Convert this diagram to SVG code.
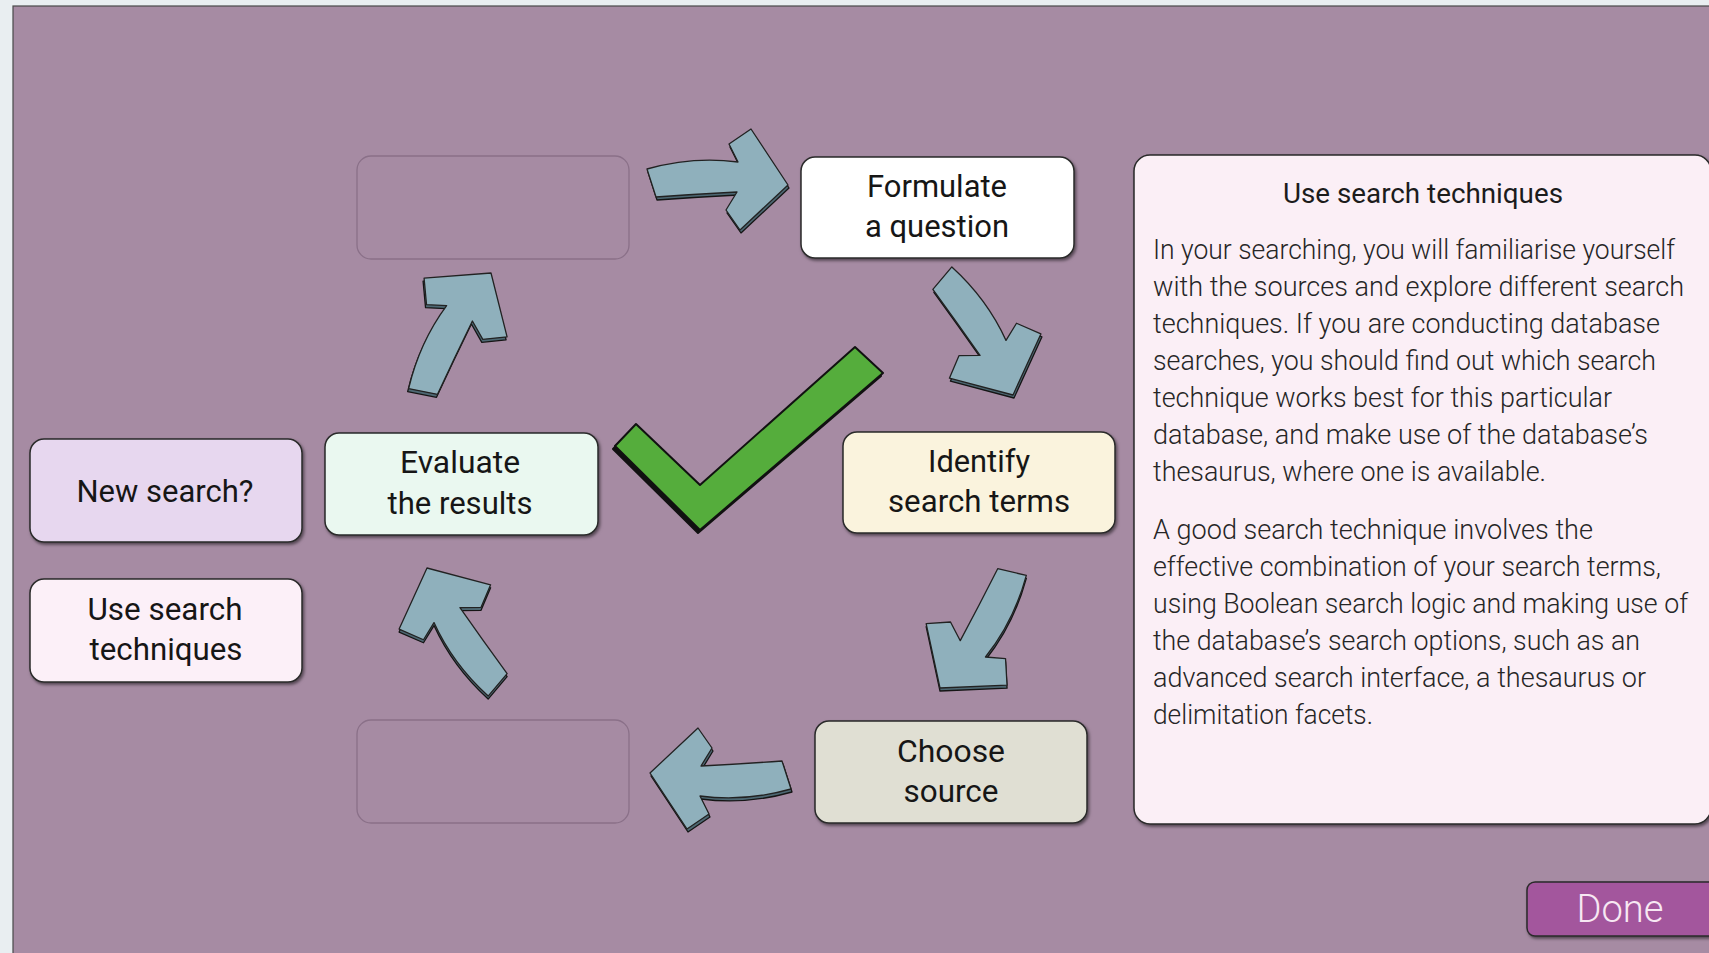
<svg xmlns="http://www.w3.org/2000/svg" xmlns:xlink="http://www.w3.org/1999/xlink" width="1709" height="953" viewBox="0 0 1709 953">
<style>
.node rect{stroke:#2a2a2a;stroke-width:1.5;filter:url(#sh)}
.lbl{font-family:Roboto,"Open Sans",sans-serif;font-size:31px;fill:#161616;text-anchor:middle}
.empty{fill:none;stroke:#8a7088;stroke-width:1.3}
.ash{fill:#4d6873;stroke:#151515;stroke-width:1.3;stroke-linejoin:round}
.afill{fill:#8fb0bc;stroke:#222;stroke-width:1.3;stroke-linejoin:round}
.body{font-family:Roboto,"Liberation Sans",sans-serif;font-weight:300;font-size:27px;fill:#262626}
</style>
<defs>
<filter id="sh" x="-10%" y="-10%" width="120%" height="130%">
<feDropShadow dx="1.5" dy="2" stdDeviation="1.5" flood-color="#000" flood-opacity="0.5"/>
</filter>
<path id="arr" d="M0,0 L-37,-56 L-59,-41 L-50,-23 Q-95,-29 -141,-16 L-132,12 Q-90,9 -51,7 L-62,25 L-48,45 Z"/>
</defs>
<rect x="0" y="0" width="1709" height="953" fill="#e9eef1"/>
<rect x="13" y="6" width="1720" height="960" fill="#a68ba3" stroke="#4a4a4a" stroke-width="1.2"/>

<g id="empty-top"><rect class="empty" x="357" y="156" width="272" height="103" rx="14"/></g>
<g id="empty-bottom"><rect class="empty" x="357" y="720" width="272" height="103" rx="14"/></g>

<g id="connectors">
<use xlink:href="#arr" class="ash" transform="translate(789,188) rotate(0)"/>
<use xlink:href="#arr" class="afill" transform="translate(788,185) rotate(0)"/>
<use xlink:href="#arr" class="ash" transform="translate(1014,398) rotate(58)"/>
<use xlink:href="#arr" class="afill" transform="translate(1013,395) rotate(58)"/>
<use xlink:href="#arr" class="ash" transform="translate(940,691) rotate(121)"/>
<use xlink:href="#arr" class="afill" transform="translate(940,688) rotate(121)"/>
<use xlink:href="#arr" class="ash" transform="translate(651,776) rotate(180)"/>
<use xlink:href="#arr" class="afill" transform="translate(650,773) rotate(180)"/>
<use xlink:href="#arr" class="ash" transform="translate(427,571) rotate(-122)"/>
<use xlink:href="#arr" class="afill" transform="translate(427,568) rotate(-122)"/>
<use xlink:href="#arr" class="ash" transform="translate(490,276) rotate(-61)"/>
<use xlink:href="#arr" class="afill" transform="translate(491,273) rotate(-61)"/>
</g>

<g id="check">
<path d="M615,446 L636,424 L700,485 L855,347 L883,373 L700,530 Z" fill="#111" stroke="#111" stroke-width="2" stroke-linejoin="round" transform="translate(-2,3)"/>
<path d="M615,446 L636,424 L700,485 L855,347 L883,373 L700,530 Z" fill="#55ad3c" stroke="#111" stroke-width="2" stroke-linejoin="round"/>
</g>

<g id="formulate" class="node">
<rect x="801" y="157" width="273" height="101" rx="14" fill="#ffffff"/>
<text class="lbl" x="937" y="197" textLength="140" lengthAdjust="spacingAndGlyphs">Formulate</text>
<text class="lbl" x="937" y="237" textLength="144" lengthAdjust="spacingAndGlyphs">a question</text>
</g>
<g id="identify" class="node">
<rect x="843" y="432" width="272" height="101" rx="14" fill="#faf3dd"/>
<text class="lbl" x="979" y="472" textLength="102" lengthAdjust="spacingAndGlyphs">Identify</text>
<text class="lbl" x="979" y="512" textLength="182" lengthAdjust="spacingAndGlyphs">search terms</text>
</g>
<g id="choose" class="node">
<rect x="815" y="721" width="272" height="102" rx="14" fill="#e0dfd3"/>
<text class="lbl" x="951" y="762" textLength="108" lengthAdjust="spacingAndGlyphs">Choose</text>
<text class="lbl" x="951" y="802" textLength="95" lengthAdjust="spacingAndGlyphs">source</text>
</g>
<g id="evaluate" class="node">
<rect x="325" y="433" width="273" height="102" rx="14" fill="#eaf8f0"/>
<text class="lbl" x="460" y="473" textLength="120" lengthAdjust="spacingAndGlyphs">Evaluate</text>
<text class="lbl" x="460" y="514" textLength="145" lengthAdjust="spacingAndGlyphs">the results</text>
</g>
<g id="new-search" class="node">
<rect x="30" y="439" width="272" height="103" rx="14" fill="#e7d7ef"/>
<text class="lbl" x="165" y="502" textLength="177" lengthAdjust="spacingAndGlyphs">New search?</text>
</g>
<g id="use-search" class="node">
<rect x="30" y="579" width="272" height="103" rx="14" fill="#fcf0f8"/>
<text class="lbl" x="165" y="620" textLength="155" lengthAdjust="spacingAndGlyphs">Use search</text>
<text class="lbl" x="166" y="660" textLength="153" lengthAdjust="spacingAndGlyphs">techniques</text>
</g>

<g id="info-panel" class="node">
<rect x="1134" y="155" width="577" height="669" rx="16" fill="#fbeff6"/>
<text x="1423" y="203" font-family="Roboto,'Liberation Sans',sans-serif" font-size="27" fill="#1c1c1c" text-anchor="middle" textLength="280" lengthAdjust="spacingAndGlyphs">Use search techniques</text>
<text class="body" x="1153" y="259" textLength="522" lengthAdjust="spacingAndGlyphs">In your searching, you will familiarise yourself</text>
<text class="body" x="1153" y="296" textLength="531" lengthAdjust="spacingAndGlyphs">with the sources and explore different search</text>
<text class="body" x="1153" y="333" textLength="507" lengthAdjust="spacingAndGlyphs">techniques. If you are conducting database</text>
<text class="body" x="1153" y="370" textLength="503" lengthAdjust="spacingAndGlyphs">searches, you should find out which search</text>
<text class="body" x="1153" y="407" textLength="459" lengthAdjust="spacingAndGlyphs">technique works best for this particular</text>
<text class="body" x="1153" y="444" textLength="495" lengthAdjust="spacingAndGlyphs">database, and make use of the database’s</text>
<text class="body" x="1153" y="481" textLength="393" lengthAdjust="spacingAndGlyphs">thesaurus, where one is available.</text>
<text class="body" x="1153" y="539" textLength="440" lengthAdjust="spacingAndGlyphs">A good search technique involves the</text>
<text class="body" x="1153" y="576" textLength="508" lengthAdjust="spacingAndGlyphs">effective combination of your search terms,</text>
<text class="body" x="1153" y="613" textLength="535" lengthAdjust="spacingAndGlyphs">using Boolean search logic and making use of</text>
<text class="body" x="1153" y="650" textLength="487" lengthAdjust="spacingAndGlyphs">the database’s search options, such as an</text>
<text class="body" x="1153" y="687" textLength="493" lengthAdjust="spacingAndGlyphs">advanced search interface, a thesaurus or</text>
<text class="body" x="1153" y="724" textLength="220" lengthAdjust="spacingAndGlyphs">delimitation facets.</text>
</g>

<g id="done" class="node">
<rect x="1527" y="882" width="200" height="54" rx="8" fill="#a3569d"/>
<text x="1620" y="922" font-family="Roboto,'Liberation Sans',sans-serif" font-weight="300" font-size="38" fill="#f7e8f3" text-anchor="middle" textLength="87" lengthAdjust="spacingAndGlyphs">Done</text>
</g>
</svg>
